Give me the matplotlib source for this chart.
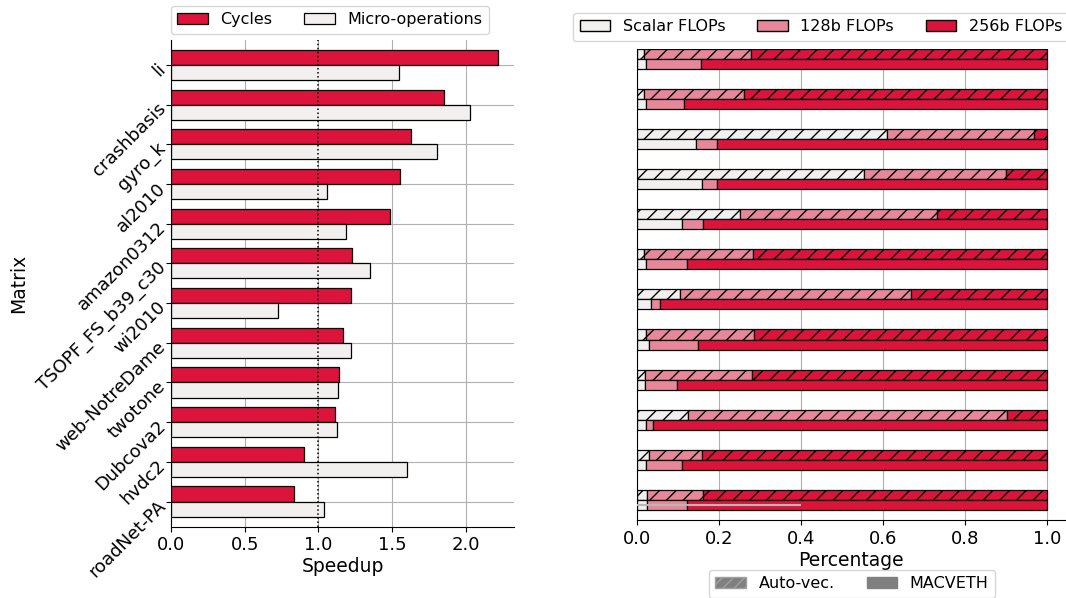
import matplotlib.pyplot as plt
from matplotlib.patches import Patch
import numpy as np

matrices = ['li', 'crashbasis', 'gyro_k', 'al2010', 'amazon0312', 'TSOPF_FS_b39_c30',
            'wi2010', 'web-NotreDame', 'twotone', 'Dubcova2', 'hvdc2', 'roadNet-PA']

# speedup (left panel)
cycles = [2.216, 1.852, 1.626, 1.556, 1.488, 1.230, 1.223, 1.169, 1.138, 1.113, 0.905, 0.837]
uops = [1.549, 2.031, 1.802, 1.058, 1.189, 1.352, 0.726, 1.219, 1.135, 1.128, 1.599, 1.040]

# FLOP mix (right panel), fractions; 256b is the rest up to 1.0
auto_scalar = [0.016, 0.016, 0.610, 0.554, 0.250, 0.017, 0.104, 0.022, 0.018, 0.124, 0.029, 0.024]
auto_128 = [0.262, 0.245, 0.358, 0.344, 0.481, 0.264, 0.564, 0.262, 0.261, 0.777, 0.129, 0.137]
mac_scalar = [0.020, 0.021, 0.144, 0.157, 0.110, 0.020, 0.033, 0.029, 0.018, 0.020, 0.020, 0.024]
mac_128 = [0.136, 0.093, 0.050, 0.038, 0.049, 0.100, 0.023, 0.118, 0.078, 0.019, 0.088, 0.096]

red = '#DC143C'
pink = '#E8879A'
light = '#F1F0EE'

plt.rcParams['font.family'] = 'DejaVu Sans'
fig = plt.figure(figsize=(10.66, 5.98), dpi=100)

W, H = 1066, 598
ax1 = fig.add_axes([171/W, 1-526.7/H, (514-171)/W, (526.7-40)/H])
ax2 = fig.add_axes([637.3/W, 1-520/H, (1065-637.3)/W, (520-48.7)/H])

y = np.arange(len(matrices))
h = 0.38
ax1.set_axisbelow(True)
ax1.barh(y - h/2, cycles, height=h, color=red, edgecolor='black', linewidth=0.9, label='Cycles')
ax1.barh(y + h/2, uops, height=h, color=light, edgecolor='black', linewidth=0.9, label='Micro-operations')
ax1.axvline(1.0, color='black', linestyle=':', linewidth=1.1)
ax1.set_yticks(y)
ax1.set_yticklabels(matrices, rotation=45, ha='right', rotation_mode='anchor', fontsize=13)
ax1.set_ylim(11.635, -0.63)
ax1.set_xlim(0, 2.327)
ax1.set_xticks([0, 0.5, 1.0, 1.5, 2.0])
ax1.tick_params(axis='x', labelsize=13)
ax1.grid(True, color='#b0b0b0', linewidth=0.8)
ax1.set_xlabel('Speedup', fontsize=13.5, labelpad=2)
ax1.set_ylabel('Matrix', fontsize=13.5)
for s in ['top', 'right']:
    ax1.spines[s].set_visible(False)
leg_kw = dict(loc='upper center', fontsize=11.5, handlelength=1.9, columnspacing=2.0)
fig.legend(*ax1.get_legend_handles_labels(), ncol=2, bbox_to_anchor=(330/W, 1+2/H), **leg_kw)

# right panel
bh = 0.25
auto_scalar = np.array(auto_scalar)
auto_128 = np.array(auto_128)
mac_scalar = np.array(mac_scalar)
mac_128 = np.array(mac_128)
ya = y - bh/2
ym = y + bh/2
ax2.set_axisbelow(True)
kw = dict(height=bh, edgecolor='black', linewidth=0.9)
ax2.barh(ya, auto_scalar, color=light, hatch='//', **kw)
ax2.barh(ya, auto_128, left=auto_scalar, color=pink, hatch='//', **kw)
ax2.barh(ya, 1 - auto_scalar - auto_128, left=auto_scalar + auto_128, color=red, hatch='//', **kw)
ax2.barh(ym, mac_scalar, color=light, **kw)
ax2.barh(ym, mac_128, left=mac_scalar, color=pink, **kw)
ax2.barh(ym, 1 - mac_scalar - mac_128, left=mac_scalar + mac_128, color=red, **kw)
ax2.hlines(11.12, 0, 0.4, color='#b8b8b8', linewidth=1.5, zorder=3)
ax2.set_ylim(11.5, -0.25)
ax2.set_xlim(0, 1.043)
ax2.set_yticks([])
ax2.set_xticks([0, 0.2, 0.4, 0.6, 0.8, 1.0])
ax2.tick_params(axis='x', labelsize=13)
ax2.grid(True, axis='x', color='#b0b0b0', linewidth=0.8)
ax2.set_xlabel('Percentage', fontsize=13.5, labelpad=2)
for s in ['top', 'right']:
    ax2.spines[s].set_visible(False)

flop_handles = [Patch(facecolor=light, edgecolor='black', label='Scalar FLOPs'),
                Patch(facecolor=pink, edgecolor='black', label='128b FLOPs'),
                Patch(facecolor=red, edgecolor='black', label='256b FLOPs')]
fig.legend(handles=flop_handles, ncol=3, bbox_to_anchor=(821/W, 1-5/H), **leg_kw)

mode_handles = [Patch(facecolor='gray', edgecolor='#a0a0a0', hatch='///', label='Auto-vec.'),
                Patch(facecolor='gray', edgecolor='gray', label='MACVETH')]
fig.legend(handles=mode_handles, ncol=2, bbox_to_anchor=(852/W, 1-562/H), **leg_kw)

fig.savefig('out.png', dpi=100)
